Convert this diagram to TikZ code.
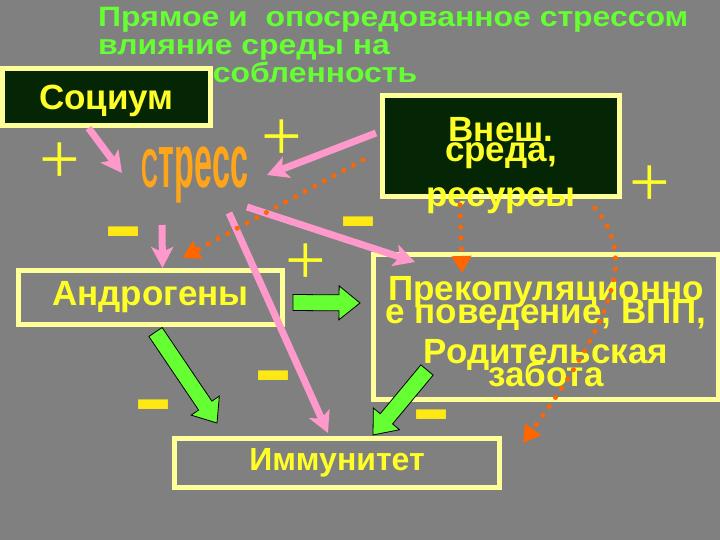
\documentclass[tikz,border=0pt]{standalone}
\usepackage{fontspec}
\usepackage{tikz}
\usetikzlibrary{arrows.meta, calc}
\newfontfamily\arialfont{Liberation Sans}
\newfontfamily\timesfont{Liberation Serif}
\newfontfamily\dejavufont{DejaVu Sans}
\definecolor{bggray}{RGB}{128,128,128}
\definecolor{boxfill}{RGB}{4,38,4}
\definecolor{boxedge}{RGB}{255,255,153}
\definecolor{txtyellow}{RGB}{255,255,40}
\definecolor{titlegreen}{RGB}{102,255,51}
\definecolor{stressorange}{RGB}{255,165,25}
\definecolor{pinkline}{RGB}{255,153,204}
\definecolor{dotorange}{RGB}{255,102,0}
\definecolor{arrowgreen}{RGB}{102,255,51}
\definecolor{plusyellow}{RGB}{255,255,40}
\definecolor{minusyellow}{RGB}{255,232,20}
\lineskiplimit=-100pt
% block arrow: #1 start, #2 tip
\newcommand{\blockarrow}[2]{%
  \coordinate (bh) at ($(#2)!21pt!(#1)$);
  \draw[greenarrow] ($(#1)!8pt!90:(bh)$) -- ($(bh)!8pt!-90:(#1)$) -- ($(bh)!17pt!-90:(#1)$) -- (#2)
    -- ($(bh)!17pt!90:(#1)$) -- ($(bh)!8pt!90:(#1)$) -- ($(#1)!8pt!-90:(bh)$) -- cycle;}

\begin{document}
\begin{tikzpicture}[x=1pt, y=-1pt,
  darkbox/.style={draw=boxedge, fill=boxfill, line width=5pt},
  greybox/.style={draw=boxedge, line width=5pt},
  boxtext/.style={text=txtyellow, align=center, inner sep=0pt,
    font=\arialfont\bfseries\fontsize{35}{20}\selectfont},
  titletext/.style={text=titlegreen, align=left, inner sep=0pt, anchor=north west, xscale=1.14,
    font=\arialfont\bfseries\fontsize{28}{28}\selectfont},
  stresstext/.style={text=stressorange, inner sep=0pt, xscale=0.45, yscale=1.05,
    font=\arialfont\bfseries\fontsize{72}{72}\selectfont},
  plussign/.style={text=plusyellow, inner sep=0pt, font=\timesfont\fontsize{72}{72}\selectfont},
  minussign/.style={text=minusyellow, inner sep=0pt, font=\dejavufont\bfseries\fontsize{76}{76}\selectfont},
  pinkarrow/.style={draw=pinkline, line width=7pt, -{Stealth[length=21pt, width=22pt, inset=5pt]}},
  dotarrow/.style={draw=dotorange, line width=5pt, line cap=round, dash pattern=on 0pt off 11pt,
    -{Triangle[length=17pt, width=19pt]}},
  greenarrow/.style={draw=black, fill=arrowgreen, line width=0.8pt, line join=miter}]
\useasboundingbox (0,0) rectangle (720,540);
\fill[bggray] (0,0) rectangle (720,540);
\node[titletext] (title) at (98,7) {Прямое и \ опосредованное стрессом\\влияние среды на\\приспособленность};
% boxes
\node[darkbox, boxtext, minimum width=208, minimum height=57] (socium) at (106.5,97) {\raisebox{-4pt}[25pt][7pt]{Социум}};
\node[darkbox, minimum width=237, minimum height=101] (vnesh) at (501,146) {};
\node[boxtext] (vneshtxt) at ([yshift=-19.5]vnesh.center) {Внеш.\\среда,\\[25pt]ресурсы};
\node[greybox, boxtext, minimum width=264, minimum height=54] (andr) at (150.5,297.5) {Андрогены};
\node[greybox, minimum width=345, minimum height=145] (prec) at (546,327) {};
\node[boxtext, font=\arialfont\bfseries\fontsize{35}{23}\selectfont] (prectxt) at ([yshift=-5]prec.center)
  {Прекопуляционно\\е поведение, ВПП,\\[17pt]Родительская\\забота};
\node[greybox, boxtext, font=\arialfont\bfseries\fontsize{32}{32}\selectfont, minimum width=325, minimum height=49] (immun) at (337,463) {Иммунитет};
\node[stresstext] (stress) at (195,175) {{\fontsize{52}{52}\selectfont С}трес{}с};
% signs
\node[plussign] (pl1) at (60,163) {+};
\node[plussign] (pl2) at (282,140) {+};
\node[plussign] (pl3) at (306,264) {+};
\node[plussign] (pl4) at (650,186) {+};
\node[minussign] (mi1) at (123,240) {–};
\node[minussign] (mi2) at (358,230) {–};
\node[minussign] (mi3) at (153,413) {–};
\node[minussign] (mi4) at (273,384) {–};
\node[minussign] (mi5) at (431,423) {–};
% pink arrows
\draw[pinkarrow] ([xshift=-18]socium.south) -- ([xshift=-73,yshift=2]stress.center);
\draw[pinkarrow] ([xshift=-4,yshift=13]vnesh.west) -- ([xshift=72]stress.center);
\draw[pinkarrow] ([xshift=-33,yshift=-50]stress.center) -- ([xshift=12]andr.north);
\draw[pinkarrow] ([xshift=52,yshift=-32]stress.center) -- ([xshift=44,yshift=-10]prec.north west);
\draw[pinkarrow] ([xshift=34,yshift=-38]stress.center) -- ([xshift=-9,yshift=3]immun.north);
% orange dotted arrows
\draw[dotarrow] ([xshift=-138,yshift=-14]vnesh.center) -- ([xshift=32,yshift=10]andr.north);
\draw[dotarrow] ([xshift=-41,yshift=-6]vnesh.south) -- ([xshift=-84,yshift=-21]prec.north);
\draw[dotarrow] ([xshift=-27,yshift=-9]vnesh.south east) .. controls (625,245) and (635,290) .. ([xshift=21,yshift=-7]immun.north east);
% green block arrows
\coordinate (g1a) at ([xshift=8,yshift=-5]andr.east);
\coordinate (g1b) at ([xshift=-11,yshift=24]prec.west);
\coordinate (g2a) at ([xshift=5,yshift=-5]andr.south);
\coordinate (g2b) at ([xshift=45,yshift=13]immun.north west);
\coordinate (g3a) at ([xshift=56,yshift=32]prec.south west);
\coordinate (g3b) at ([xshift=-129,yshift=1]immun.north east);
\blockarrow{g1a}{g1b}
\blockarrow{g2a}{g2b}
\blockarrow{g3a}{g3b}
\end{tikzpicture}
\end{document}
